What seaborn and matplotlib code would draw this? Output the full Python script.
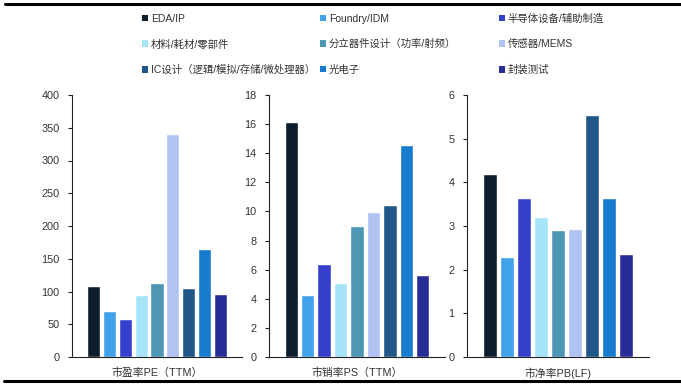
import matplotlib
matplotlib.use("Agg")
import matplotlib.pyplot as plt
from matplotlib.patches import Patch
from matplotlib.lines import Line2D
import seaborn as sns
import pandas as pd

categories = ["EDA/IP", "Foundry/IDM", "半导体设备/辅助制造",
              "材料/耗材/零部件", "分立器件设计（功率/射频）", "传感器/MEMS",
              "IC设计（逻辑/模拟/存储/微处理器）", "光电子", "封装测试"]
colors = ["#0c1d2b", "#42a1eb", "#3440cc", "#a6e4fa", "#4d96b4",
          "#b0c3f3", "#215788", "#177bce", "#272d96"]

metrics = ["市盈率PE（TTM）", "市销率PS（TTM）", "市净率PB(LF)"]
pe_values = [108.5, 69.8, 58.6, 94.3, 113.6, 339.9, 105.5, 165.6, 96.3]
ps_values = [16.17, 4.27, 6.42, 5.11, 9.03, 9.93, 10.43, 14.56, 5.66]
pb_values = [4.20, 2.28, 3.65, 3.20, 2.90, 2.92, 5.54, 3.65, 2.37]
y_limits = [400, 18, 6]
y_steps = [50, 2, 1]

sns.set_theme(style="white")
plt.rcParams["font.family"] = ["Liberation Sans", "Noto Sans CJK SC", "DejaVu Sans"]
plt.rcParams["axes.unicode_minus"] = False

W, H = 681, 385
fig = plt.figure(figsize=(W / 100, H / 100), dpi=100)
fig.patch.set_facecolor("white")

ax_px = [(72, 242), (269, 445), (467, 649)]
top_px, bot_px = 95, 357
text_col = "#333333"

all_values = [pe_values, ps_values, pb_values]
for i, (metric, vals) in enumerate(zip(metrics, all_values)):
    l, r = ax_px[i]
    ax = fig.add_axes([l / W, (H - bot_px) / H, (r - l) / W, (bot_px - top_px) / H])
    df = pd.DataFrame({"metric": [metric] * len(categories),
                       "category": categories, "value": vals})
    sns.barplot(data=df, x="metric", y="value", hue="category",
                hue_order=categories, palette=colors, width=0.84, gap=0.18,
                saturation=1, legend=False, ax=ax)
    ax.set_xlim(-0.5, 0.5)
    ax.set_ylim(0, y_limits[i])
    ax.set_yticks([y_steps[i] * k for k in range(int(round(y_limits[i] / y_steps[i])) + 1)])
    ax.set_xlabel("")
    ax.set_ylabel("")
    for s in ["top", "right"]:
        ax.spines[s].set_visible(False)
    for s in ["left", "bottom"]:
        ax.spines[s].set_color("#222222")
        ax.spines[s].set_linewidth(0.8)
    ax.tick_params(axis="y", left=True, length=3, width=0.8, color="#222222",
                   labelsize=7.8, labelcolor=text_col, pad=6)
    ax.tick_params(axis="x", bottom=False, labelsize=7.8, labelcolor=text_col, pad=1.5)
    ax.set_facecolor("white")

# legend: three columns placed at measured positions
col_x = [146, 324, 503]
for c in range(3):
    idx = [c, c + 3, c + 6]
    handles = [Patch(facecolor=colors[j], edgecolor="none") for j in idx]
    labels = [categories[j] for j in idx]
    fig.legend(handles, labels, loc="upper left",
               bbox_to_anchor=((col_x[c] - 4) / W, 1 - 13.5 / H),
               frameon=False, ncol=1, fontsize=7.5, handlelength=0.6,
               handleheight=0.6, handletextpad=0.25, labelspacing=1.48,
               borderpad=0, borderaxespad=0, labelcolor=text_col)

# decorative top and bottom rules
fig.add_artist(Line2D([5 / W, 1], [1 - 3.5 / H, 1 - 3.5 / H], color="black", lw=2.2))
fig.add_artist(Line2D([4 / W, 1], [1 - 380.5 / H, 1 - 380.5 / H], color="black", lw=2.2))

fig.savefig("out.png", dpi=100)
